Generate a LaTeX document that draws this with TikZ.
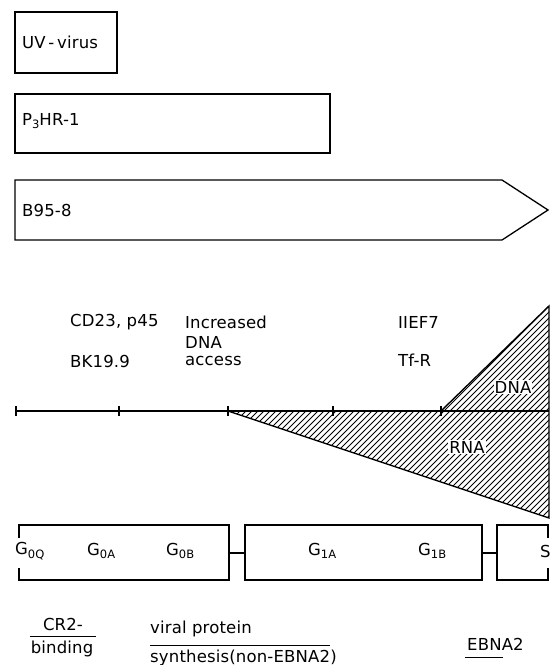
\documentclass[tikz,border=0pt]{standalone}
\usepackage{fontspec}
\setmainfont{DejaVu Sans}[LetterSpace=1]
\newcommand\lowsub[1]{\raisebox{-3.5pt}{\fontsize{11.5}{12}\selectfont #1}}
\begin{document}
\begin{tikzpicture}[x=1pt,y=-1pt,
  lbl/.style={anchor=west,inner sep=0pt,font=\fontsize{16.5}{19}\selectfont},
  clbl/.style={inner sep=0pt,font=\fontsize{16.5}{19}\selectfont},
  boxline/.style={line width=1.3pt},
  linkline/.style={line width=2.6pt},
  hatchline/.style={line width=1pt},
  edgeline/.style={line width=1.4pt},
  rule/.style={line width=0.7pt},
  whitelbl/.style={fill=white,inner sep=1pt,font=\fontsize{16.5}{19}\selectfont}]
\useasboundingbox (0,0) rectangle (559,665);

% top boxes
\draw[boxline] (15,12) rectangle (117,73);
\node[lbl] (uv) at (22,42) {UV\,-\,virus};
\draw[boxline] (15,94) rectangle (330,153);
\node[lbl] (p3) at (22,121) {P\lowsub{3}HR-1};
\draw[boxline] (15,180) -- (502,180) -- (548,210) -- (502,240) -- (15,240) -- cycle;
\node[lbl] (b95) at (22,210) {B95-8};

% labels above the axis
\node[lbl] (cd23) at (70,322) {CD23, p45};
\node[lbl] (bk) at (70,361) {BK19.9};
\node[lbl] (incr) at (185,322) {Increased};
\node[lbl] (dnaacc) at (185,342) {DNA};
\node[lbl] (acc) at (185,361) {access};
\node[lbl] (iief) at (398,322) {IIEF7};
\node[lbl] (tfr) at (398,360) {Tf-R};

% hatching
\begin{scope}
\clip (228,411) -- (549,411) -- (549,518) -- cycle
      (441,411) -- (549,306) -- (549,411) -- cycle;
\foreach \k in {94,100,...,560} \draw[hatchline] (\k,545) -- ++(270,-270);
\end{scope}
\draw[edgeline] (228,411) -- (549,518) -- (549,306) -- (441,411);

% axis
\coordinate (ax0) at (16,411);
\coordinate (ax5) at (549,411);
\draw[edgeline] (ax0) -- (ax5);
\foreach \t in {16,119,228,333,441} \draw[boxline] (\t,406) -- (\t,416);

\node[whitelbl] (dna) at (513,387) {DNA};
\node[whitelbl] (rna) at (467,447) {RNA};

% cell cycle boxes
\draw[boxline] (19,538) -- (19,525) -- (229,525) -- (229,580) -- (19,580) -- (19,568);
\draw[boxline] (245,525) rectangle (482,580);
\draw[boxline] (548,538) -- (548,525) -- (497,525) -- (497,580) -- (548,580) -- (548,568);
\coordinate (b1r) at (229,553);
\coordinate (b2l) at (245,553);
\coordinate (b2r) at (482,553);
\coordinate (b3l) at (497,553);
\draw[linkline] (b1r) -- (b2l);
\draw[linkline] (b2r) -- (b3l);

\node[lbl] (g0q) at (15,551) {G\lowsub{0Q}};
\node[lbl] (g0a) at (87,551) {G\lowsub{0A}};
\node[lbl] (g0b) at (166,551) {G\lowsub{0B}};
\node[lbl] (g1a) at (308,551) {G\lowsub{1A}};
\node[lbl] (g1b) at (418,551) {G\lowsub{1B}};
\node[lbl] (s) at (540,551) {S};

% bottom labels
\node[clbl] (cr2) at (63,624) {CR2-};
\coordinate (cr2l) at (30,636);
\coordinate (cr2r) at (96,636);
\draw[rule] (cr2l) -- (cr2r);
\node[clbl] (bind) at (62,649) {binding};

\node[lbl] (vp) at (150,629) {viral protein};
\coordinate (vpl) at (150,645);
\coordinate (vpr) at (330,645);
\draw[rule] (vpl) -- (vpr);
\node[lbl] (synth) at (150,658) {synthesis(non-EBNA2)};

\node[lbl] (ebna) at (467,644) {EBNA2};
\coordinate (ebl) at (465,657);
\coordinate (ebr) at (503,657);
\draw[rule] (ebl) -- (ebr);
\end{tikzpicture}
\end{document}
